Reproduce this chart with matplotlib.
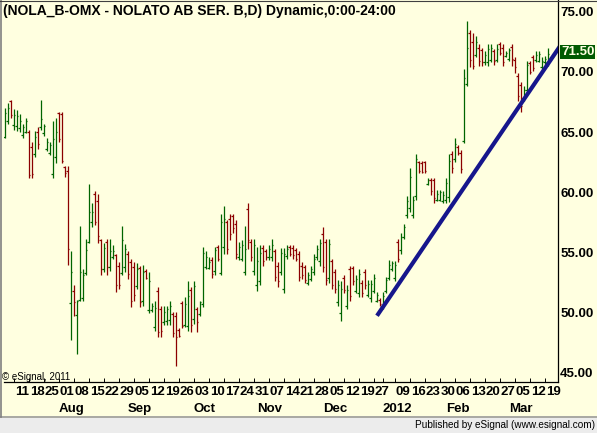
import numpy as np
import pandas as pd
import matplotlib
matplotlib.use('Agg')
import matplotlib.pyplot as plt
from matplotlib.collections import LineCollection
from matplotlib.lines import Line2D
from matplotlib.patches import Rectangle

plt.rcParams['font.family'] = ['Liberation Sans', 'DejaVu Sans']

title = '(NOLA_B-OMX - NOLATO AB SER. B,D) Dynamic,0:00-24:00'

# trading days (Stockholm holidays removed)
holidays = ['2011-12-26', '2011-12-30', '2012-01-06']
dates = pd.bdate_range('2011-07-06', '2012-03-20')
dates = dates[~dates.isin(pd.to_datetime(holidays))]

opens = [64.6, 65.9, 67.6, 65.6, 65.5, 65.3, 64.8, 65.0, 65.0, 63.8,
         63.2, 65.0, 65.4, 64.9, 63.6, 63.3, 61.5, 62.9, 66.6, 66.5,
         62.1, 61.8, 50.8, 51.8, 49.8, 51.1, 51.2, 53.3, 55.9, 57.5,
         59.9, 59.3, 56.0, 53.6, 55.9, 53.8, 54.6, 54.8, 53.9, 53.3,
         53.8, 54.9, 54.2, 53.8, 52.2, 53.7, 51.0, 53.5, 50.2, 50.2,
         48.8, 51.8, 50.3, 49.2, 49.3, 49.4, 49.9, 49.7, 48.6, 50.8,
         49.0, 48.9, 51.9, 49.5, 50.3, 49.9, 50.7, 53.8, 53.7, 54.4,
         53.5, 55.5, 53.3, 55.5, 57.5, 57.8, 58.0, 57.4, 54.6, 54.5,
         53.4, 58.6, 55.9, 53.5, 52.3, 52.6, 55.4, 55.1, 54.6, 54.6,
         55.1, 53.9, 53.4, 52.0, 54.7, 55.5, 55.4, 55.2, 54.9, 53.9,
         53.8, 52.5, 52.8, 53.4, 54.6, 54.3, 56.5, 55.9, 52.9, 54.3,
         53.4, 50.9, 50.0, 52.9, 50.6, 53.6, 53.7, 51.8, 51.6, 52.5,
         53.4, 51.5, 51.2, 51.8, 51.0, 51.1, 50.5, 51.8, 52.9, 53.6,
         52.9, 55.9, 55.2, 56.3, 58.1, 58.7, 58.1, 59.7, 62.5, 62.4,
         62.5, 60.7, 61.0, 61.0, 59.4, 59.4, 59.3, 59.4, 59.6, 63.2,
         62.8, 63.8, 63.3, 64.3, 69.0, 73.2, 72.5, 71.4, 72.0, 71.8,
         70.8, 70.8, 71.0, 71.7, 71.0, 72.3, 72.0, 71.3, 71.1, 72.1,
         71.0, 69.7, 68.9, 67.8, 68.5, 70.7, 71.2, 71.0, 70.9, 70.4,
         70.8, 70.8]
highs = [67.0, 67.4, 67.7, 66.9, 66.8, 66.5, 65.7, 66.2, 65.2, 64.2,
         65.1, 65.4, 67.7, 65.7, 64.5, 64.2, 65.9, 66.2, 66.7, 66.7,
         62.2, 62.2, 55.1, 52.3, 51.1, 57.2, 53.6, 56.1, 60.7, 59.1,
         60.1, 59.9, 56.1, 55.8, 56.1, 56.1, 55.6, 54.9, 54.2, 57.2,
         55.7, 55.1, 54.5, 54.2, 54.1, 53.9, 54.0, 53.6, 53.4, 50.8,
         51.0, 52.1, 50.6, 50.6, 50.6, 51.0, 50.1, 50.1, 48.7, 51.0,
         51.3, 52.6, 52.1, 52.6, 50.5, 51.0, 55.5, 55.1, 54.6, 54.6,
         55.5, 55.6, 58.2, 58.9, 57.7, 58.2, 58.2, 57.7, 55.9, 56.0,
         57.2, 59.1, 56.1, 56.1, 55.5, 55.6, 55.6, 55.3, 55.6, 56.1,
         55.3, 54.2, 55.4, 55.4, 55.6, 55.6, 55.6, 55.4, 55.1, 54.2,
         54.0, 53.4, 53.9, 54.9, 55.6, 56.1, 57.1, 56.1, 56.1, 54.5,
         53.6, 52.7, 52.6, 53.1, 52.3, 53.9, 53.9, 53.1, 53.6, 52.7,
         53.6, 52.7, 52.7, 53.2, 51.7, 51.2, 51.7, 53.0, 54.4, 54.3,
         54.3, 56.1, 56.6, 57.4, 59.7, 62.0, 59.7, 63.2, 62.6, 62.6,
         62.6, 61.2, 61.2, 61.2, 60.2, 60.2, 60.1, 61.2, 63.2, 63.4,
         64.5, 63.9, 63.5, 70.2, 74.2, 73.5, 73.2, 73.0, 72.3, 72.0,
         71.7, 72.3, 72.3, 71.9, 72.3, 72.5, 72.3, 71.7, 72.0, 72.3,
         71.2, 69.9, 69.2, 68.8, 70.9, 70.9, 71.4, 71.7, 71.7, 71.2,
         71.3, 72.0]
lows = [64.5, 65.7, 66.2, 65.2, 65.1, 65.0, 64.5, 64.9, 61.2, 61.2,
        62.9, 63.6, 65.2, 64.7, 63.4, 63.1, 61.2, 62.4, 64.2, 62.4,
        61.3, 54.0, 47.7, 49.7, 46.6, 51.0, 51.0, 53.1, 55.8, 57.1,
        57.3, 55.8, 53.1, 53.4, 53.1, 53.5, 54.5, 51.7, 52.0, 53.1,
        53.4, 52.8, 50.5, 51.0, 52.0, 50.5, 50.6, 52.8, 50.0, 50.1,
        48.5, 48.0, 48.0, 49.0, 49.0, 49.0, 48.0, 45.6, 48.0, 48.7,
        48.8, 48.5, 48.4, 49.1, 48.4, 49.7, 50.5, 53.6, 53.6, 52.9,
        53.1, 54.3, 53.1, 54.9, 54.9, 56.0, 56.6, 54.5, 54.4, 54.3,
        53.1, 55.3, 54.3, 53.1, 51.8, 52.3, 53.9, 54.4, 54.4, 54.3,
        52.6, 52.1, 53.1, 51.6, 54.5, 54.7, 54.5, 54.3, 52.6, 52.8,
        52.5, 52.3, 52.6, 53.1, 54.4, 53.9, 53.4, 52.3, 52.5, 52.0,
        51.6, 50.6, 49.3, 51.6, 50.3, 51.0, 52.3, 51.6, 51.3, 51.3,
        52.0, 51.3, 50.9, 51.6, 50.9, 50.6, 50.3, 51.6, 52.7, 53.5,
        52.6, 54.2, 54.9, 56.1, 57.9, 58.4, 57.9, 59.4, 61.6, 61.6,
        61.6, 60.6, 59.8, 59.1, 59.3, 59.3, 59.1, 59.1, 59.2, 61.6,
        62.5, 63.1, 61.6, 64.1, 68.8, 70.4, 70.2, 71.2, 70.5, 70.5,
        70.6, 70.5, 70.8, 70.6, 70.8, 71.4, 70.5, 71.2, 70.9, 70.5,
        69.9, 67.6, 66.7, 67.6, 68.2, 69.8, 70.1, 70.8, 70.8, 70.2,
        70.6, 70.5]
closes = [66.6, 67.0, 66.4, 66.4, 66.3, 65.9, 65.4, 65.9, 61.4, 61.5,
          64.6, 64.0, 66.1, 65.5, 64.2, 63.9, 64.4, 65.0, 64.4, 62.6,
          61.6, 55.3, 53.4, 50.9, 51.0, 53.4, 53.1, 55.2, 58.4, 58.4,
          57.5, 56.4, 53.6, 55.4, 53.8, 55.1, 55.1, 52.3, 52.3, 56.0,
          55.3, 53.2, 51.0, 51.5, 53.6, 50.9, 53.4, 52.9, 52.6, 50.6,
          50.4, 48.4, 48.5, 50.1, 50.3, 50.6, 48.3, 48.0, 48.1, 48.9,
          50.7, 51.4, 49.0, 52.2, 49.2, 50.9, 55.0, 54.6, 54.2, 53.2,
          55.2, 54.5, 57.5, 57.8, 55.3, 56.5, 57.0, 54.9, 55.5, 55.6,
          55.3, 56.0, 54.6, 55.6, 54.3, 55.0, 54.3, 54.6, 55.3, 55.6,
          53.0, 52.6, 55.0, 54.9, 55.3, 54.9, 54.8, 54.5, 53.0, 53.1,
          52.7, 53.1, 53.6, 54.5, 55.3, 55.8, 53.8, 52.7, 55.7, 52.3,
          52.0, 52.3, 52.0, 51.9, 51.9, 51.4, 52.6, 52.8, 53.2, 51.6,
          52.3, 52.4, 52.4, 52.9, 51.5, 50.7, 51.4, 52.7, 54.0, 54.1,
          54.0, 54.5, 56.3, 57.1, 59.3, 61.3, 59.4, 62.8, 61.8, 61.7,
          61.8, 61.0, 60.1, 59.5, 59.9, 60.0, 59.8, 60.8, 62.6, 62.0,
          64.0, 63.3, 61.9, 69.5, 72.0, 71.0, 70.5, 72.5, 70.9, 70.8,
          71.4, 71.9, 72.0, 70.9, 71.9, 71.6, 70.8, 71.6, 71.8, 71.1,
          70.4, 68.0, 67.2, 68.5, 70.6, 70.0, 70.3, 71.4, 71.5, 70.9,
          71.1, 71.5]

day_labels = ['11', '18', '25', '01', '08', '15', '22', '29', '05', '12',
              '19', '26', '03', '10', '17', '24', '31', '07', '14', '21',
              '28', '05', '12', '19', '27', '', '09', '16', '23', '30',
              '06', '13', '20', '27', '05', '12', '19']
month_labels = ['Aug', 'Sep', 'Oct', 'Nov', 'Dec', '2012', 'Feb', 'Mar']
y_ticks = [45, 50, 55, 60, 65, 70, 75]
last_price = 71.50

# hand-drawn trend line (bar index, price)
trend_idx = [124.1, 185.0]
trend_price = [49.75, 72.1]

green = '#006400'
red = '#8b0000'
bg = '#ffffe0'

W, H = 597, 433
fig = plt.figure(figsize=(W / 100, H / 100), dpi=100, facecolor=bg)
ax = fig.add_axes([4 / W, 51 / H, 554 / W, 382 / H])
ax.set_facecolor(bg)

o = np.array(opens)
hi = np.array(highs)
lo = np.array(lows)
c = np.array(closes)
n = len(c)

tk = 0.55  # open/close tick length in bar units
segs = []
cols = []
for i in range(n):
    col = green if c[i] >= o[i] else red
    segs.append([(i, lo[i]), (i, hi[i])])
    segs.append([(i - tk, o[i]), (i, o[i])])
    segs.append([(i, c[i]), (i + tk, c[i])])
    cols += [col] * 3
ax.add_collection(LineCollection(segs, colors=cols, linewidths=0.9, capstyle='butt'))

ax.plot(trend_idx, trend_price, color='#16168c', lw=3.0, solid_capstyle='butt')

ax.set_xlim(-0.23, 184.43)
ax.set_ylim(44.25, 75.97)

for s in ['left', 'top']:
    ax.spines[s].set_visible(False)
for s in ['right', 'bottom']:
    ax.spines[s].set_linewidth(0.9)
    ax.spines[s].set_color('black')

# week / month positions from the trading calendar
idx = pd.Series(np.arange(n), index=dates)
week_pos = idx.groupby(dates.to_period('W')).first().values[1:]
month_pos = idx.groupby(dates.to_period('M')).first().values[1:]

ax.set_xticks(week_pos)
ax.tick_params(axis='x', direction='in', length=3, width=0.7, labelbottom=False)
for p, lab in zip(week_pos, day_labels):
    ax.annotate(lab, xy=(p, 0), xycoords=('data', 'axes fraction'),
                xytext=(1, -4), textcoords='offset pixels',
                ha='left', va='top', fontsize=9.5, fontweight='bold')
for p, lab in zip(month_pos, month_labels):
    ax.annotate(lab, xy=(p, 0), xycoords=('data', 'axes fraction'),
                xytext=(0, -21), textcoords='offset pixels',
                ha='left', va='top', fontsize=9.5, fontweight='bold')

ax.yaxis.tick_right()
ax.set_yticks(y_ticks, [f'{v:.2f}' for v in y_ticks], fontsize=9.5, fontweight='bold')
ax.tick_params(axis='y', length=0, pad=1.5)

ax.annotate(f'{last_price:.2f}', xy=(1, last_price), xycoords=('axes fraction', 'data'),
            xytext=(3, 2), textcoords='offset pixels', ha='left', va='center',
            fontsize=9.5, fontweight='bold', color='#ffffe0',
            bbox=dict(boxstyle='square,pad=0.08', fc='#005a00', ec='none'),
            annotation_clip=False)

fig.text(3 / W, 1 - 11 / H, title, ha='left', va='center', fontsize=10, fontweight='bold')
fig.text(2 / W, 1 - 377 / H, '\u00a9 eSignal, 2011', ha='left', va='center', fontsize=7)

# bottom status strip and window border
fig.patches.append(Rectangle((0, 0), 1, 15 / H, transform=fig.transFigure,
                             fc='#ececec', ec='none', zorder=0))
fig.lines.append(Line2D([0, 1], [16 / H, 16 / H], transform=fig.transFigure,
                        color='#999999', lw=1.2))
fig.lines.append(Line2D([0.8 / W, 0.8 / W], [16 / H, 1], transform=fig.transFigure,
                        color='#808080', lw=1.2))
fig.lines.append(Line2D([0, 1], [1 - 0.5 / H, 1 - 0.5 / H], transform=fig.transFigure,
                        color='#404040', lw=0.8))
fig.text(595 / W, 8 / H, 'Published by eSignal (www.esignal.com)', ha='right', va='center',
         fontsize=7.2)

fig.savefig('out.png', dpi=100, facecolor=fig.get_facecolor())
